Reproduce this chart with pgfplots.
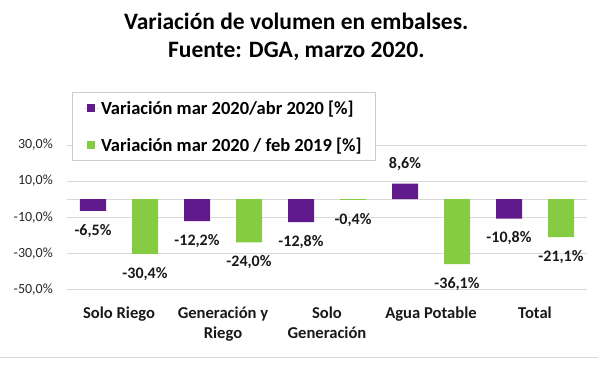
\documentclass[border=0pt]{standalone}
\usepackage{fontspec}
\setmainfont{Carlito}
\usepackage{pgfplots}
\pgfplotsset{compat=1.18}
\definecolor{cpurple}{RGB}{96,26,140}
\definecolor{cgreen}{RGB}{134,204,66}
\definecolor{cgrid}{RGB}{217,217,217}
\pgfplotsset{sqlegend/.style={legend image code/.code={\path (0pt,0pt) -- (15pt,0pt);\path[##1,draw=none] (3pt,-4pt) rectangle (11pt,4pt);}}}
\begin{document}
\begin{tikzpicture}
\path[use as bounding box] (0,0) rectangle (600pt,369pt);
\draw[cgrid, line width=0.8pt] (0pt,12pt) -- (598pt,12pt);
\begin{axis}[
 at={(67pt,79.7pt)}, anchor=south west,
 scale only axis, width=520pt, height=144.3pt,
 xmin=-0.5, xmax=4.5, ymin=-50, ymax=30,
 ybar, bar width=26pt,
 axis line style={draw=none}, tick style={draw=none},
 ymajorgrids, grid style={cgrid, line width=0.8pt},
 ytick={-50,-30,-10,10,30},
 extra y ticks={0}, extra y tick labels={},
 extra y tick style={grid style={cgrid,line width=0.8pt}},
 yticklabel={\pgfmathprintnumber[fixed,fixed zerofill,precision=1,use comma,assume math mode=true]{\tick}\%},
 yticklabel style={font=\fontsize{14}{16}\selectfont, text=black!85, inner xsep=0pt, xshift=-14pt},
 xtick={0,...,4},
 xticklabels={Solo Riego, {Generación y\\Riego}, {Solo\\Generación}, Agua Potable, Total},
 xticklabel style={align=center, font=\fontsize{16.6}{20}\selectfont\bfseries, text=black!90, yshift=-10pt},
 nodes near coords={\pgfmathprintnumber[fixed,fixed zerofill,precision=1,use comma,assume math mode=true]{\pgfplotspointmeta}\%},
 every node near coord/.append style={font=\fontsize{16}{19}\selectfont\bfseries, text=black!90, inner ysep=13pt, inner xsep=0pt},
 title={Variación de volumen en embalses.\\Fuente: DGA, marzo 2020.},
 title style={at={(axis description cs:0.441,1.71)}, anchor=center, align=center, font=\fontsize{23.5}{28}\selectfont\bfseries},
 legend cell align=left,
 legend style={at={(axis description cs:0.009,1.365)}, anchor=north west, draw=black!20, line width=0.8pt, fill=white, font=\fontsize{18.5}{22}\selectfont\bfseries, row sep=18pt, inner xsep=12pt, inner ysep=6pt},
]
\addplot[fill=cpurple, draw=none, bar shift=-26pt, sqlegend] coordinates {(0,-6.5) (1,-12.2) (2,-12.8) (3,8.6) (4,-10.8)};
\addplot[fill=cgreen, draw=none, bar shift=26pt, sqlegend] coordinates {(0,-30.4) (1,-24.0) (2,-0.4) (3,-36.1) (4,-21.1)};
\legend{Variación mar 2020/abr 2020 [\%], Variación mar 2020 / feb 2019 [\%]}
\end{axis}
\end{tikzpicture}
\end{document}
